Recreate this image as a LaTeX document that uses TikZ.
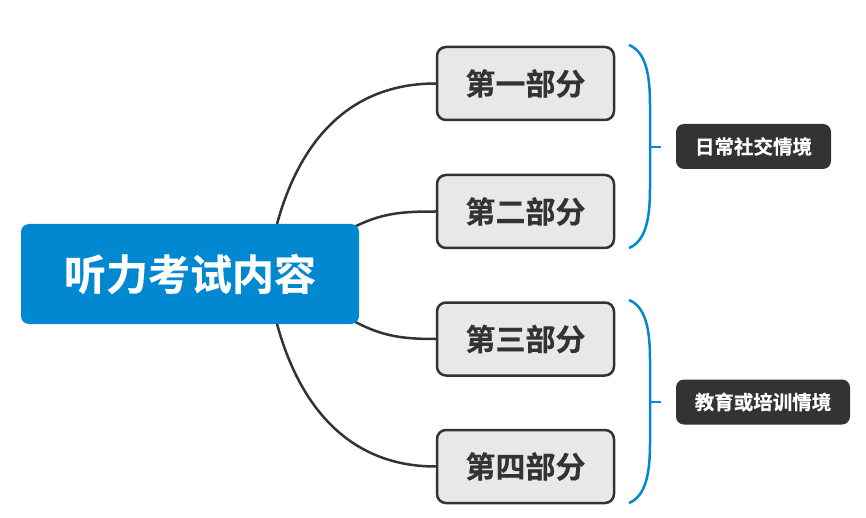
\documentclass[tikz,border=0pt]{standalone}
\usepackage{fontspec}
\setmainfont{Noto Sans CJK SC}[BoldFont={Noto Sans CJK SC Bold}, BoldFeatures={FakeBold=0.4}]
\usetikzlibrary{calc}
\definecolor{rootblue}{HTML}{0288D1}
\definecolor{darkgray3}{HTML}{333333}
\definecolor{partfill}{HTML}{E8E8E8}
\tikzset{
  rootbox/.style={fill=rootblue, draw=none, rounded corners=8pt, minimum width=338pt, minimum height=100pt, inner sep=0pt, text=white, font=\fontsize{42}{46}\selectfont\bfseries},
  partbox/.style={fill=partfill, draw=darkgray3, line width=2.5pt, rounded corners=9pt, minimum width=177pt, minimum height=73pt, inner sep=0pt, text=darkgray3, font=\fontsize{30}{34}\selectfont\bfseries},
  tagbox/.style={fill=darkgray3, draw=none, rounded corners=8pt, minimum height=45pt, inner sep=0pt, text=white, font=\fontsize{19.5}{22}\selectfont\bfseries},
  link/.style={draw=darkgray3, line width=2.5pt},
  bracel/.style={draw=rootblue, line width=2.5pt}
}
\begin{document}
\begin{tikzpicture}[x=1pt,y=-1pt]
\useasboundingbox (0,0) rectangle (866,518);
\node[partbox] (b1) at (525.5,83.5) {第一部分};
\node[partbox] (b2) at (525.5,211.5) {第二部分};
\node[partbox] (b3) at (525.5,339) {第三部分};
\node[partbox] (b4) at (525.5,466.5) {第四部分};
\coordinate (s1) at (277,224);
\coordinate (s2) at (345,232);
\coordinate (s3) at (345,316);
\coordinate (s4) at (277,324);
\draw[link] (s1) .. controls (300,140) and (350,83.5) .. (b1.west);
\draw[link] (s2) .. controls (378,213) and (400,211.5) .. (b2.west);
\draw[link] (s3) .. controls (378,336) and (400,339) .. (b3.west);
\draw[link] (s4) .. controls (300,408) and (350,466.5) .. (b4.west);
\node[rootbox] (root) at (190,274) {听力考试内容};
\node[tagbox, minimum width=155pt] (t1) at (753.5,146.5) {日常社交情境};
\node[tagbox, minimum width=174pt] (t2) at (763,402) {教育或培训情境};
\coordinate (k1) at (650,147);
\coordinate (k2) at (650,402);
\draw[bracel] (629,45) .. controls (646,52) and (650,75) .. (650,105) -- (650,188) .. controls (650,218) and (646,241) .. (629,248);
\draw[bracel] (k1) -- ++(11,0);
\draw[bracel] (629,300) .. controls (646,307) and (650,330) .. (650,360) -- (650,443) .. controls (650,473) and (646,496) .. (629,503);
\draw[bracel] (k2) -- ++(11,0);
\end{tikzpicture}
\end{document}
